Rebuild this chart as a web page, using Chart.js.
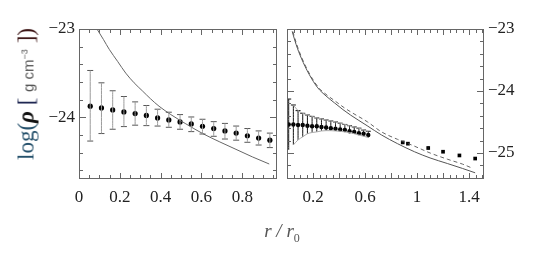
<!DOCTYPE html>
<html>
<head>
<meta charset="utf-8">
<script src="https://cdn.jsdelivr.net/npm/chart.js@4.4.1/dist/chart.umd.min.js"></script>
<style>
  body { margin: 0; background: #fff; width: 545px; height: 253px; overflow: hidden; position: relative; font-family: "Liberation Serif", "Times New Roman", Times, serif; }
  #leftBox { position: absolute; left: 0; top: 0; }
  #rightBox { position: absolute; left: 282px; top: 0; }
  .ytitle { position: absolute; left: 26px; top: 94px; transform: translate(-50%, -50%) rotate(-90deg); white-space: nowrap; font-size: 23px; line-height: 1; }
  .ytitle .lg { color: #24506b; }
  .ytitle .rho { color: #111; font-style: italic; font-weight: bold; }
  .ytitle .br { color: #1c2450; }
  .ytitle .unit { font-family: "Liberation Sans", Arial, sans-serif; font-size: 15px; color: #555; }
  .ytitle .unit sup { font-size: 9px; }
  .ytitle .rb { color: #3a1212; }
  .xtitle { position: absolute; left: 282px; top: 233px; transform: translate(-50%, -50%); white-space: nowrap; font-size: 19px; color: #555; font-style: italic; }
  .xtitle sub { font-style: normal; font-size: 12px; }
</style>
</head>
<body>
<canvas id="leftBox" width="282" height="253"></canvas>
<canvas id="rightBox" width="263" height="253"></canvas>
<div class="ytitle"><span class="lg">log(</span><span class="rho">ρ</span> <span class="br">[</span> <span class="unit">g cm<sup>−3</sup></span> <span class="rb">])</span></div>
<div class="xtitle">r / r<sub>0</sub></div>
<script>
// left panel: binned profile and model
const leftR   = [0.055, 0.11, 0.165, 0.22, 0.275, 0.33, 0.385, 0.44, 0.495, 0.55, 0.605, 0.66, 0.715, 0.77, 0.825, 0.88, 0.935];
const leftLog = [-23.875, -23.894, -23.917, -23.94, -23.958, -23.98, -24.008, -24.03, -24.053, -24.076, -24.102, -24.128, -24.155, -24.18, -24.21, -24.236, -24.26];
const leftHi  = [-23.47, -23.61, -23.70, -23.765, -23.826, -23.867, -23.909, -23.943, -23.97, -23.997, -24.023, -24.05, -24.07, -24.10, -24.128, -24.155, -24.18];
const leftLo  = [-24.27, -24.185, -24.136, -24.106, -24.09, -24.095, -24.10, -24.114, -24.136, -24.163, -24.19, -24.216, -24.247, -24.26, -24.284, -24.315, -24.344];
const leftModelR   = [0.088, 0.12, 0.148, 0.19, 0.229, 0.27, 0.31, 0.35, 0.392, 0.45, 0.52, 0.606, 0.69, 0.769, 0.85, 0.932];
const leftModelLog = [-23.0, -23.12, -23.23, -23.37, -23.5, -23.61, -23.70, -23.79, -23.875, -23.97, -24.07, -24.185, -24.28, -24.364, -24.45, -24.53];

// right panel: inner profile, outer points and two models
const rightR   = [0.013, 0.049, 0.085, 0.121, 0.157, 0.193, 0.229, 0.265, 0.301, 0.337, 0.373, 0.409, 0.445, 0.481, 0.517, 0.553, 0.589, 0.625];
const rightLog = [-24.54, -24.54, -24.55, -24.55, -24.56, -24.57, -24.57, -24.58, -24.59, -24.60, -24.61, -24.62, -24.63, -24.65, -24.66, -24.68, -24.69, -24.71];
const rightHi  = [-24.13, -24.226, -24.317, -24.36, -24.387, -24.41, -24.435, -24.45, -24.468, -24.484, -24.50, -24.52, -24.54, -24.56, -24.58, -24.60, -24.63, -24.65];
const rightLo  = [-24.95, -24.87, -24.79, -24.74, -24.69, -24.67, -24.66, -24.645, -24.64, -24.64, -24.645, -24.65, -24.66, -24.67, -24.69, -24.71, -24.73, -24.75];
const outerR   = [0.89, 0.93, 1.086, 1.20, 1.326, 1.447];
const outerLog = [-24.83, -24.85, -24.92, -24.98, -25.04, -25.09];
const outerErr = [0.02, 0.02, 0.03, 0, 0, 0];
const solidR   = [0.04, 0.07, 0.11, 0.17, 0.237, 0.3, 0.364, 0.43, 0.49, 0.616, 0.727, 0.85, 0.98, 1.1, 1.233, 1.35, 1.447];
const solidLog = [-23.04, -23.25, -23.47, -23.73, -23.95, -24.08, -24.19, -24.30, -24.39, -24.56, -24.71, -24.85, -24.98, -25.08, -25.17, -25.25, -25.32];
const dashR    = [0.045, 0.075, 0.115, 0.175, 0.245, 0.31, 0.375, 0.44, 0.5, 0.62, 0.727, 0.85, 0.98, 1.1, 1.233, 1.35, 1.43];
const dashLog  = [-23.04, -23.25, -23.47, -23.73, -23.95, -24.07, -24.17, -24.27, -24.35, -24.50, -24.66, -24.78, -24.89, -25.00, -25.10, -25.18, -25.25];

const leftXTicks = [0, 0.2, 0.4, 0.6, 0.8];
const rightXTicks = [0.2, 0.6, 1, 1.4];
const leftYTicks = [-24, -23];
const rightYTicks = [-25, -24, -23];

const pts = (xs, ys) => xs.map((x, i) => ({ x, y: ys[i] }));
function barSegs(xs, lo, hi) {
  const d = [];
  xs.forEach((x, i) => { d.push({ x, y: lo[i] }, { x, y: hi[i] }, { x, y: null }); });
  return d;
}
const fmt = v => (v < 0 ? '\u2212' + Math.abs(v) : String(v));

// box frame plus inward ticks on all four sides
const frameTicks = {
  id: 'frameTicks',
  afterDatasetsDraw(chart, args, o) {
    const { ctx, chartArea: a, scales: { x, y } } = chart;
    ctx.save();
    ctx.strokeStyle = '#666';
    ctx.lineWidth = 1;
    ctx.strokeRect(a.left + 0.5, a.top + 0.5, a.right - a.left - 1, a.bottom - a.top - 1);
    ctx.beginPath();
    for (let k = 0; k * o.xStep <= x.max + 1e-9; k++) {
      const v = k * o.xStep;
      if (v < x.min) continue;
      const px = Math.round(x.getPixelForValue(v)) + 0.5;
      const len = (k % o.xMajorEvery === 0) ? 6 : 4;
      ctx.moveTo(px, a.bottom); ctx.lineTo(px, a.bottom - len);
      ctx.moveTo(px, a.top); ctx.lineTo(px, a.top + len);
    }
    for (let v = Math.ceil(y.min / 0.2) * 0.2; v <= y.max + 1e-9; v += 0.2) {
      const py = Math.round(y.getPixelForValue(v)) + 0.5;
      const major = Math.abs(v - Math.round(v)) < 1e-6;
      const len = major ? 7 : 4;
      ctx.moveTo(a.left, py); ctx.lineTo(a.left + len, py);
      ctx.moveTo(a.right, py); ctx.lineTo(a.right - len, py);
    }
    ctx.stroke();
    ctx.restore();
  }
};

const tickFont = { family: "'Liberation Serif', 'Times New Roman', Times, serif", size: 17 };

function panel(id, cfg) {
  return new Chart(document.getElementById(id), {
    type: 'scatter',
    data: { datasets: cfg.datasets },
    options: {
      responsive: false,
      animation: false,
      layout: { padding: cfg.padding },
      elements: { line: { cubicInterpolationMode: 'monotone' } },
      plugins: { legend: { display: false }, tooltip: { enabled: false }, frameTicks: cfg.frame },
      scales: {
        x: {
          type: 'linear', min: cfg.xMin, max: cfg.xMax,
          grid: { display: false, drawTicks: false },
          border: { display: false },
          afterBuildTicks: s => { s.ticks = cfg.xTicks.map(v => ({ value: v })); },
          afterFit: s => { s.height = 74; },
          ticks: { color: '#222', font: tickFont, padding: 8, maxRotation: 0, autoSkip: false, callback: v => String(v) }
        },
        y: {
          type: 'linear', position: cfg.yPos, min: cfg.yMin, max: cfg.yMax,
          grid: { display: false, drawTicks: false },
          border: { display: false },
          afterBuildTicks: s => { s.ticks = cfg.yTicks.map(v => ({ value: v })); },
          afterFit: s => { s.width = cfg.yWidth; },
          ticks: { color: '#222', font: tickFont, padding: 4, callback: fmt }
        }
      }
    },
    plugins: [frameTicks]
  });
}

panel('leftBox', {
  padding: { top: 29, right: 4, left: 0, bottom: 0 },
  xMin: 0, xMax: 0.97, yMin: -24.7, yMax: -23,
  xTicks: leftXTicks, yTicks: leftYTicks, yPos: 'left', yWidth: 79,
  frame: { xStep: 0.05, xMajorEvery: 4 },
  datasets: [
    { data: barSegs(leftR, leftLo, leftHi), showLine: true, spanGaps: false, borderColor: '#9a9a9a', borderWidth: 1, pointRadius: 0 },
    { data: pts(leftR, leftHi).concat(pts(leftR, leftLo)), pointStyle: 'line', pointRadius: 3, borderColor: '#555', borderWidth: 1 },
    { data: pts(leftModelR, leftModelLog), showLine: true, borderColor: '#666', borderWidth: 1, pointRadius: 0 },
    { data: pts(leftR, leftLog), pointRadius: 2.6, backgroundColor: '#000', borderColor: '#000', borderWidth: 0 }
  ]
});

panel('rightBox', {
  padding: { top: 29, right: 0, left: 2, bottom: 0 },
  xMin: 0, xMax: 1.515, yMin: -25.42, yMax: -23,
  xTicks: rightXTicks, yTicks: rightYTicks, yPos: 'right', yWidth: 61,
  frame: { xStep: 0.05, xMajorEvery: 4 },
  datasets: [
    { data: pts(rightR.slice(1), rightHi.slice(1)), showLine: true, borderColor: '#aaa', borderWidth: 1, pointRadius: 0 },
    { data: pts(rightR.slice(1), rightLo.slice(1)), showLine: true, borderColor: '#aaa', borderWidth: 1, pointRadius: 0 },
    { data: barSegs(rightR, rightLo, rightHi), showLine: true, spanGaps: false, borderColor: '#111', borderWidth: 1, pointRadius: 0 },
    { data: pts(rightR, rightHi), pointStyle: 'line', pointRadius: 2.5, borderColor: '#111', borderWidth: 1 },
    { data: barSegs(outerR, outerLog.map((v, i) => v - outerErr[i]), outerLog.map((v, i) => v + outerErr[i])), showLine: true, spanGaps: false, borderColor: '#111', borderWidth: 1, pointRadius: 0 },
    { data: pts(solidR, solidLog), showLine: true, borderColor: '#555', borderWidth: 1, pointRadius: 0 },
    { data: pts(dashR, dashLog), showLine: true, borderColor: '#666', borderWidth: 1, borderDash: [4, 3], pointRadius: 0 },
    { data: pts(rightR, rightLog), pointRadius: 2.2, backgroundColor: '#000', borderWidth: 0 },
    { data: pts(outerR, outerLog), pointStyle: 'rect', pointRadius: 2.6, backgroundColor: '#000', borderWidth: 0 }
  ]
});
</script>
</body>
</html>
